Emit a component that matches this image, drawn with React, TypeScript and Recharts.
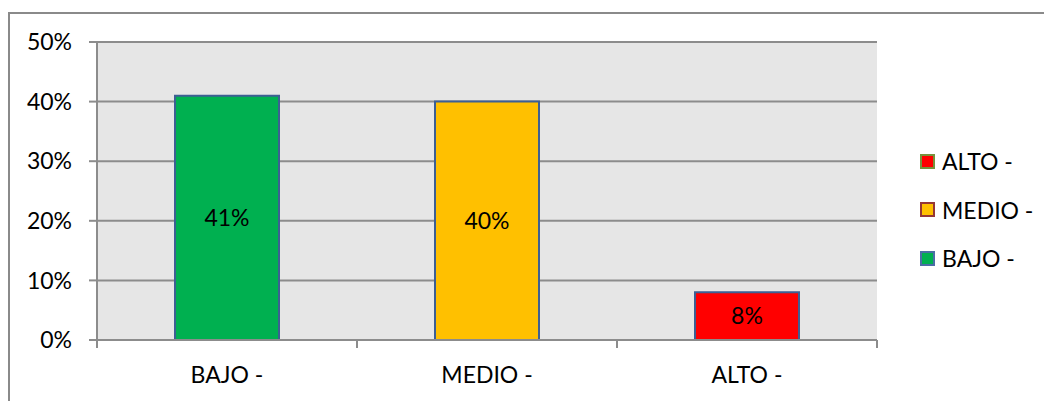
import { BarChart, Bar, XAxis, YAxis, CartesianGrid, Cell, LabelList, Legend } from 'recharts';

// datos del gráfico
const categories = ['BAJO -', 'MEDIO -', 'ALTO -'];
const values = [0.41, 0.4, 0.08];
const fills = ['#00b050', '#ffc000', '#ff0000'];
const legendBorders = ['#4a6ea5', '#953735', '#77933c'];
const yTicks = [0, 0.1, 0.2, 0.3, 0.4, 0.5];

const FONT = 'Lato, "Liberation Sans", sans-serif';
const FONT_SIZE = 23;
const GRID = '#8c8c8c';

const chartData = categories.map((name, i) => ({ name, value: values[i], color: fills[i] }));

const pct = (v: number) => `${Math.round(v * 100)}%`;

// etiqueta del eje X con marcas en los límites de cada categoría
function XTick(props: any) {
  const { x, y, payload, index } = props;
  const half = payload?.offset ?? 130;
  const top = y - 8;
  return (
    <g>
      <line x1={x - half} y1={top} x2={x - half} y2={y} stroke={GRID} strokeWidth={2} />
      {index === categories.length - 1 && (
        <line x1={x + half} y1={top} x2={x + half} y2={y} stroke={GRID} strokeWidth={2} />
      )}
      <text x={x} y={y + 35} textAnchor="middle" fill="#000" fontFamily={FONT} fontSize={FONT_SIZE}>
        {payload.value}
      </text>
    </g>
  );
}

function LegendBox() {
  // orden invertido como en el original
  const items = categories.map((name, i) => ({ name, fill: fills[i], border: legendBorders[i] })).reverse();
  return (
    <div style={{ fontFamily: FONT, fontSize: FONT_SIZE, color: '#000' }}>
      {items.map((it) => (
        <div key={it.name} style={{ display: 'flex', alignItems: 'center', height: 48.5 }}>
          <span
            style={{
              display: 'inline-block',
              width: 11,
              height: 11,
              background: it.fill,
              border: `2px solid ${it.border}`,
              marginRight: 7,
            }}
          />
          <span>{it.name}</span>
        </div>
      ))}
    </div>
  );
}

export default function App() {
  return (
    <div
      style={{
        position: 'absolute',
        left: 0,
        top: 0,
        width: 1044,
        height: 401,
        overflow: 'hidden',
        background: '#fff',
        fontFamily: FONT,
      }}
    >
      <div
        style={{
          position: 'absolute',
          left: 8,
          top: 12,
          width: 2000,
          height: 2000,
          borderLeft: '2px solid #8a8a8a',
          borderTop: '2px solid #8a8a8a',
        }}
      />
      <div style={{ position: 'absolute', left: 0, top: 0 }}>
        <BarChart
          width={1044}
          height={401}
          data={chartData}
          margin={{ top: 42, right: 47, bottom: 11, left: 0 }}
          barCategoryGap="30%"
        >
          <CartesianGrid vertical={false} stroke={GRID} strokeWidth={2} fill="#e6e6e6" />
          <XAxis
            dataKey="name"
            axisLine={{ stroke: GRID, strokeWidth: 2 }}
            tickLine={false}
            tickSize={8}
            tickMargin={0}
            height={50}
            interval={0}
            tick={<XTick />}
          />
          <YAxis
            domain={[0, 0.5]}
            ticks={yTicks}
            tickFormatter={pct}
            width={97}
            axisLine={{ stroke: GRID, strokeWidth: 2 }}
            tickLine={{ stroke: GRID, strokeWidth: 2 }}
            tickSize={8}
            tickMargin={17}
            tick={{ fill: '#000', fontFamily: FONT, fontSize: FONT_SIZE }}
          />
          <Legend
            layout="vertical"
            align="right"
            verticalAlign="top"
            width={120}
            content={<LegendBox />}
            wrapperStyle={{ top: 137, left: 920, right: 'auto' }}
          />
          <Bar dataKey="value" stroke="#3d5f93" strokeWidth={2} isAnimationActive={false} legendType="square">
            {chartData.map((d, i) => (
              <Cell key={`cell-${i}`} fill={d.color} />
            ))}
            <LabelList
              dataKey="value"
              position="center"
              formatter={(v: any) => pct(Number(v))}
              fill="#000"
              fontFamily={FONT}
              fontSize={FONT_SIZE}
            />
          </Bar>
        </BarChart>
      </div>
    </div>
  );
}
